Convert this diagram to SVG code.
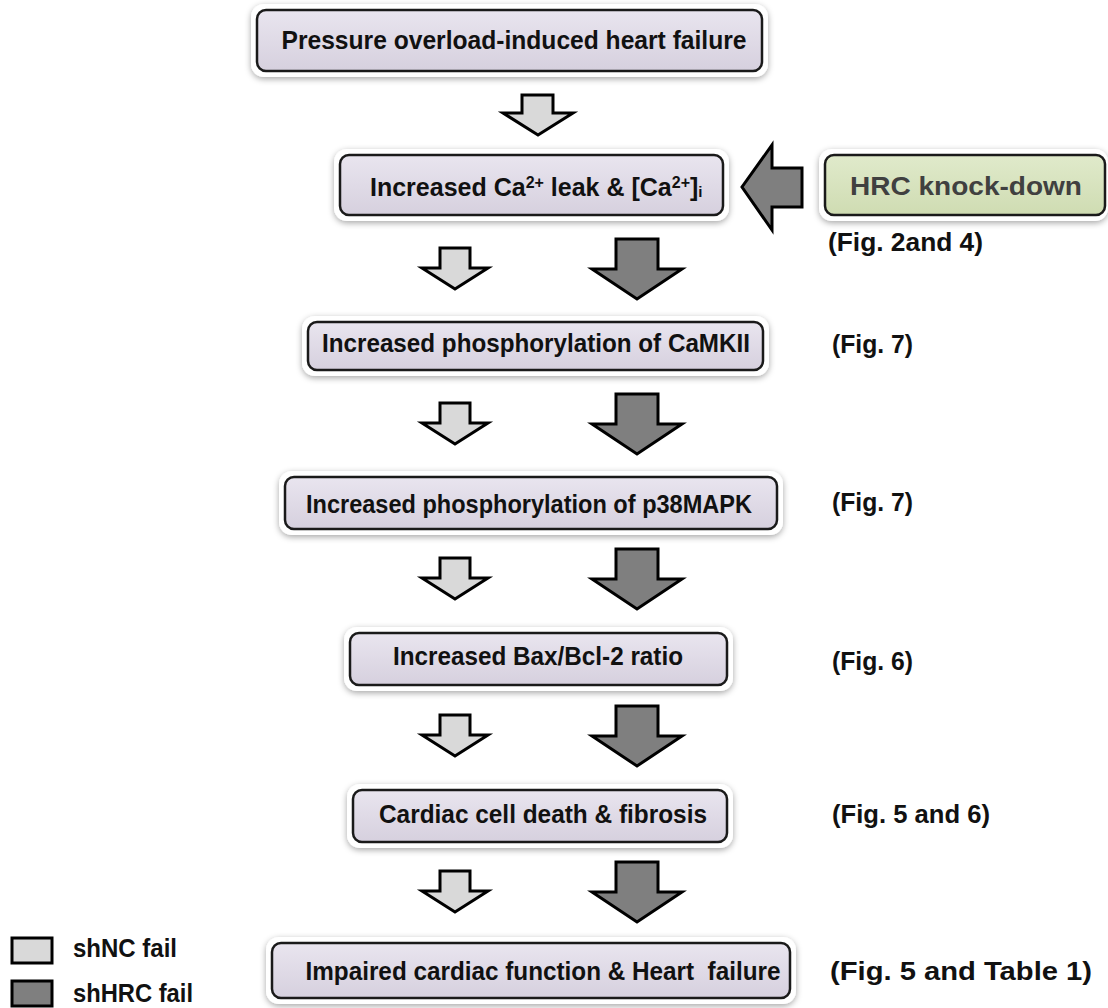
<svg xmlns="http://www.w3.org/2000/svg" width="1108" height="1008" viewBox="0 0 1108 1008">
<defs>
<linearGradient id="gBox" x1="0" y1="0" x2="0" y2="1">
<stop offset="0" stop-color="#e9e5ef"/>
<stop offset="1" stop-color="#d6d0de"/>
</linearGradient>
<linearGradient id="gGreen" x1="0" y1="0" x2="0" y2="1">
<stop offset="0" stop-color="#e0eacb"/>
<stop offset="1" stop-color="#cfdcb2"/>
</linearGradient>
<filter id="sh" x="-10%" y="-40%" width="120%" height="180%">
<feGaussianBlur in="SourceAlpha" stdDeviation="3"/>
<feOffset dx="0" dy="2" result="b"/>
<feFlood flood-color="#000" flood-opacity="0.35"/>
<feComposite in2="b" operator="in"/>
<feMerge><feMergeNode/><feMergeNode in="SourceGraphic"/></feMerge>
</filter>
</defs>
<style>
.halo{fill:#fff;filter:url(#sh)}
.box{fill:url(#gBox);stroke:#1a1a1a;stroke-width:2.5}
.gbox{fill:url(#gGreen);stroke:#1a1a1a;stroke-width:2.5}
.t{font-family:"Liberation Sans",Arial,sans-serif;font-weight:bold;fill:#111;font-size:25px}
.lt{fill:#d9d9d9;stroke:#000;stroke-width:3;stroke-linejoin:miter}
.dk{fill:#7f7f7f;stroke:#000;stroke-width:3;stroke-linejoin:miter}
</style>
<rect width="1108" height="1008" fill="#fff"/>

<g id="connectors">
<polygon class="lt" points="522,95 553,95 553,113 573,113 538,135 503,113 522,113"/>
<polygon class="dk" points="802,168 772,168 772,145 742,187 772,230 772,207 802,207"/>
<polygon class="lt" points="440,248 470,248 470,268 488,268 455,289 422,268 440,268"/>
<polygon class="dk" points="616,239 658,239 658,269 682,269 637,299 592,269 616,269"/>
<polygon class="lt" points="440,403 470,403 470,423 488,423 455,444 422,423 440,423"/>
<polygon class="dk" points="616,394 658,394 658,424 682,424 637,454 592,424 616,424"/>
<polygon class="lt" points="440,558 470,558 470,578 488,578 455,599 422,578 440,578"/>
<polygon class="dk" points="616,549 658,549 658,579 682,579 637,609 592,579 616,579"/>
<polygon class="lt" points="440,715 470,715 470,735 488,735 455,756 422,735 440,735"/>
<polygon class="dk" points="616,706 658,706 658,736 682,736 637,766 592,736 616,736"/>
<polygon class="lt" points="440,871 470,871 470,891 488,891 455,912 422,891 440,891"/>
<polygon class="dk" points="616,862 658,862 658,892 682,892 637,922 592,892 616,892"/>
</g>

<g id="n1">
<rect class="halo" x="251" y="4" width="517" height="73" rx="13"/>
<rect class="box" x="257" y="10" width="505" height="61" rx="9"/>
<text class="t" x="514" y="49" text-anchor="middle" font-size="29" textLength="465" lengthAdjust="spacingAndGlyphs">Pressure overload-induced heart failure</text>
</g>

<g id="n2">
<rect class="halo" x="334" y="149" width="395" height="72" rx="13"/>
<rect class="box" x="340" y="155" width="383" height="60" rx="9"/>
<text class="t" x="370" y="196" font-size="24">Increased Ca<tspan font-size="16" dy="-8">2+</tspan><tspan dy="8"> leak &amp; [Ca</tspan><tspan font-size="16" dy="-8">2+</tspan><tspan dy="8">]</tspan><tspan font-size="15" dy="1">i</tspan></text>
</g>

<g id="n_hrc">
<rect class="halo" x="819" y="149" width="289" height="72" rx="13"/>
<rect class="gbox" x="825" y="155" width="280" height="60" rx="9"/>
<text class="t" x="966" y="195" text-anchor="middle" font-size="29" style="fill:#404040" textLength="232" lengthAdjust="spacingAndGlyphs">HRC knock-down</text>
</g>

<g id="n3">
<rect class="halo" x="302" y="316" width="467" height="60" rx="13"/>
<rect class="box" x="308" y="322" width="455" height="48" rx="9"/>
<text class="t" x="536" y="352" text-anchor="middle" textLength="428" lengthAdjust="spacingAndGlyphs">Increased phosphorylation of CaMKII</text>
</g>

<g id="n4">
<rect class="halo" x="279" y="471" width="504" height="64" rx="13"/>
<rect class="box" x="285" y="477" width="492" height="52" rx="9"/>
<text class="t" x="529" y="513" text-anchor="middle" textLength="446" lengthAdjust="spacingAndGlyphs">Increased phosphorylation of p38MAPK</text>
</g>

<g id="n5">
<rect class="halo" x="344" y="627" width="389" height="64" rx="13"/>
<rect class="box" x="350" y="633" width="377" height="52" rx="9"/>
<text class="t" x="538" y="665" text-anchor="middle" textLength="290" lengthAdjust="spacingAndGlyphs">Increased Bax/Bcl-2 ratio</text>
</g>

<g id="n6">
<rect class="halo" x="347" y="784" width="386" height="64" rx="13"/>
<rect class="box" x="353" y="790" width="374" height="52" rx="9"/>
<text class="t" x="543" y="823" text-anchor="middle" textLength="328" lengthAdjust="spacingAndGlyphs">Cardiac cell death &amp; fibrosis</text>
</g>

<g id="n7">
<rect class="halo" x="266" y="937" width="530" height="67" rx="13"/>
<rect class="box" x="272" y="943" width="518" height="55" rx="9"/>
<text class="t" x="543" y="980" text-anchor="middle" font-size="27" xml:space="preserve" textLength="475" lengthAdjust="spacingAndGlyphs">Impaired cardiac function &amp; Heart  failure</text>
</g>

<g id="labels">
<text class="t" x="828" y="251" font-size="26" textLength="155" lengthAdjust="spacingAndGlyphs">(Fig. 2and 4)</text>
<text class="t" x="832" y="353" font-size="26" textLength="81" lengthAdjust="spacingAndGlyphs">(Fig. 7)</text>
<text class="t" x="832" y="511" font-size="26" textLength="81" lengthAdjust="spacingAndGlyphs">(Fig. 7)</text>
<text class="t" x="832" y="670" font-size="26" textLength="81" lengthAdjust="spacingAndGlyphs">(Fig. 6)</text>
<text class="t" x="832" y="823" font-size="26" textLength="158" lengthAdjust="spacingAndGlyphs">(Fig. 5 and 6)</text>
<text class="t" x="830" y="980" font-size="27" textLength="262" lengthAdjust="spacingAndGlyphs">(Fig. 5 and Table 1)</text>
</g>

<g id="legend">
<rect x="12" y="938" width="40" height="25" fill="#d9d9d9" stroke="#000" stroke-width="3"/>
<rect x="12" y="981" width="40" height="25" fill="#7f7f7f" stroke="#000" stroke-width="3"/>
<text class="t" x="73" y="957" textLength="104" lengthAdjust="spacingAndGlyphs">shNC fail</text>
<text class="t" x="73" y="1002" textLength="120" lengthAdjust="spacingAndGlyphs">shHRC fail</text>
</g>
</svg>
